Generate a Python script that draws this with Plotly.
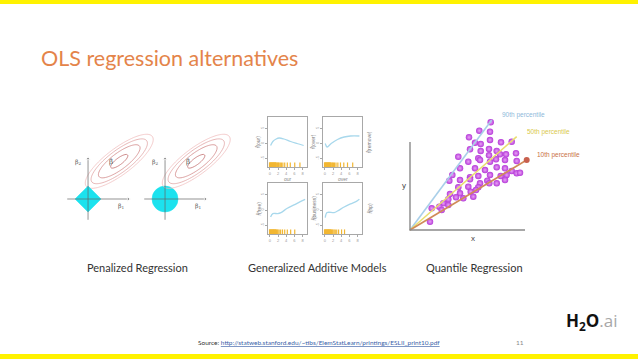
import numpy as np
import plotly.graph_objects as go

W, H = 638, 359

# ---------------- data ----------------
TITLE = "OLS regression alternatives"
CAPTIONS = ["Penalized Regression", "Generalized Additive Models", "Quantile Regression"]
SOURCE_URL = "http://statweb.stanford.edu/~tibs/ElemStatLearn/printings/ESLII_print10.pdf"
PAGE_NUMBER = "11"

# Penalized regression (beta space)
BETA_HAT = [2.4, 2.9]
RSS_SEMI_AXES = [3.3, 1.05]
RSS_ANGLE_DEG = 37
RSS_LEVEL_START, RSS_LEVEL_END, RSS_LEVEL_STEP = 0.06, 0.93, 0.29
LASSO_B1 = [1, 0, -1, 0, 1]
LASSO_B2 = [0, 1, 0, -1, 0]
RIDGE_RADIUS = 1.0
BETA_AXIS_MIN, BETA_AXIS_MAX = -1.6, 3.1

# Generalized additive models (spam data panels)
GAM_NAMES = ["our", "over", "free", "business"]
GAM_X = {
    "our":      [0.07, 0.13, 0.22, 0.30, 0.43, 0.61, 0.78, 0.96],
    "over":     [0.06, 0.11, 0.22, 0.39, 0.57, 0.74, 0.98],
    "free":     [0.07, 0.13, 0.26, 0.35, 0.52, 0.70, 0.87, 1.00],
    "business": [0.06, 0.11, 0.30, 0.39, 0.57, 0.74, 0.91, 0.98],
}
GAM_Y = {
    "our":      [0.43, 0.51, 0.56, 0.58, 0.56, 0.51, 0.47, 0.43],
    "over":     [0.47, 0.40, 0.47, 0.55, 0.60, 0.62, 0.62],
    "free":     [0.335, 0.40, 0.40, 0.42, 0.505, 0.57, 0.635, 0.68],
    "business": [0.32, 0.42, 0.42, 0.45, 0.53, 0.59, 0.645, 0.68],
}
GAM_RUG = {
    "our":      [0.04, 0.05, 0.06, 0.07, 0.08, 0.09, 0.10, 0.11, 0.12, 0.13, 0.14, 0.15, 0.16, 0.17, 0.18, 0.19,
                 0.20, 0.21, 0.22, 0.24, 0.26, 0.28, 0.30, 0.33, 0.36, 0.40, 0.45, 0.52, 0.60, 0.72, 0.86],
    "over":     [0.04, 0.05, 0.06, 0.07, 0.08, 0.09, 0.10, 0.11, 0.12, 0.13, 0.14, 0.15, 0.16, 0.17, 0.18, 0.19,
                 0.20, 0.22, 0.24, 0.26, 0.28, 0.31, 0.35, 0.40, 0.47, 0.56, 0.66, 0.80],
    "free":     [0.04, 0.05, 0.06, 0.07, 0.08, 0.09, 0.10, 0.11, 0.12, 0.13, 0.14, 0.15, 0.16, 0.17, 0.18, 0.19,
                 0.20, 0.21, 0.23, 0.25, 0.27, 0.30, 0.34, 0.39, 0.45, 0.52, 0.61, 0.72],
    "business": [0.04, 0.05, 0.06, 0.07, 0.08, 0.09, 0.10, 0.11, 0.12, 0.13, 0.14, 0.15, 0.16, 0.17, 0.18, 0.19,
                 0.20, 0.21, 0.23, 0.25, 0.27, 0.30, 0.33, 0.37, 0.42, 0.50, 0.58],
}
GAM_XTICKS = [0.05, 0.27, 0.49, 0.71, 0.93]
GAM_XTICKTEXT = ["0", "2", "4", "6", "8"]
GAM_YTICKS = [0.17, 0.47, 0.77]
GAM_YTICKTEXT = ["-5", "0", "5"]
GAM_RIGHT_LABELS = ["remove", "hp"]

# Quantile regression
Q_X = [69.3, 80, 59, 65, 70.7, 80, 91, 60, 70.7, 79, 86.7, 48.3, 68.3, 79, 90, 96, 106,
       58.3, 70, 80, 86, 95, 106.7, 50, 65, 75, 86.7, 95, 101.7, 106.7, 110, 42.3, 60, 68.3,
       80, 90.7, 96.7, 39.3, 50, 60, 70, 77.3, 86.7, 95, 48.3, 58.3, 68.3, 79.3, 40, 50,
       60.7, 66, 38.3, 46, 53.3, 63.3, 33.3, 38.3, 29.3, 21.7, 31.7, 20, 101.7, 80.7]
Q_Y = [99.3, 98.3, 92.7, 87.3, 86, 90, 87.7, 80.7, 79, 81, 79, 73.3, 71.7, 74.7, 75.7, 75.7, 76.7,
       68.3, 70, 68.3, 70.7, 70, 69, 61.7, 61.7, 60, 62.7, 61.7, 59, 56.7, 57.3, 55, 52.7, 54,
       55, 54, 55, 49.3, 50, 50.7, 46.7, 49.3, 46.7, 50, 42.7, 43.3, 42.7, 46.7, 36, 36.7,
       38.3, 40, 30.7, 32.7, 31.7, 33.3, 26.7, 25, 23.3, 21.7, 20, 8.3, 88.3, 107.7]
Q_LINE_LABELS = ["90th percentile", "50th percentile", "10th percentile"]
Q_LINE_END_X = [81.7, 106.7, 116.7]
Q_LINE_END_Y = [110, 93.3, 70]
Q_AXIS_Y_TOP = 88
Q_AXIS_X_END = 115

# ---------------- styling ----------------
YELLOW = "#FFF200"
ORANGE_TITLE = "#E4844A"
CYAN = "#1CE2EE"
Q_LINE_COLORS = ["#A9CFE9", "#E9DE6E", "#D08A58"]
Q_LABEL_COLORS = ["#8DB9DA", "#D9C94A", "#C8703F"]
RUG_COLOR = "#F2B733"
FONT = "Lato"


def dx(p0, p1):
    return [p0 / W, p1 / W]


def dy(p0, p1):
    return [1 - p1 / H, 1 - p0 / H]


def px(x):
    return x / W


def py(y):
    return 1 - y / H


fig = go.Figure()
annotations = []

# ---------- panel 1: lasso / ridge ----------
g1 = np.linspace(-2.3, 6.1, 120)
B1, B2 = np.meshgrid(g1, g1)
th = np.deg2rad(RSS_ANGLE_DEG)
U = (B1 - BETA_HAT[0]) * np.cos(th) + (B2 - BETA_HAT[1]) * np.sin(th)
V = -(B1 - BETA_HAT[0]) * np.sin(th) + (B2 - BETA_HAT[1]) * np.cos(th)
RSS = (U / RSS_SEMI_AXES[0]) ** 2 + (V / RSS_SEMI_AXES[1]) ** 2

fig.add_trace(go.Scatter(x=LASSO_B1, y=LASSO_B2, fill="toself", fillcolor=CYAN,
                         line=dict(color=CYAN, width=0.5), mode="lines",
                         xaxis="x", yaxis="y", showlegend=False, hoverinfo="skip"))

for xa, ya in [("x", "y"), ("x2", "y2")]:
    fig.add_trace(go.Contour(x=g1, y=g1, z=RSS, xaxis=xa, yaxis=ya,
                             contours=dict(coloring="lines", start=RSS_LEVEL_START,
                                           end=RSS_LEVEL_END, size=RSS_LEVEL_STEP),
                             colorscale=[[0, "#C06A6A"], [1, "#F0BCBC"]],
                             zmin=RSS_LEVEL_START, zmax=RSS_LEVEL_END,
                             line=dict(width=0.8, smoothing=1.3), showscale=False,
                             hoverinfo="skip"))
    # beta axes with arrow heads
    fig.add_trace(go.Scatter(x=[BETA_AXIS_MIN, BETA_AXIS_MAX], y=[0, 0], mode="lines+markers",
                             line=dict(color="#666", width=0.7),
                             marker=dict(symbol=["line-ns", "triangle-right"], size=[0, 4], color="#666"),
                             xaxis=xa, yaxis=ya, showlegend=False, hoverinfo="skip"))
    fig.add_trace(go.Scatter(x=[0, 0], y=[BETA_AXIS_MIN, BETA_AXIS_MAX], mode="lines+markers",
                             line=dict(color="#666", width=0.7),
                             marker=dict(symbol=["line-ew", "triangle-up"], size=[0, 4], color="#666"),
                             xaxis=xa, yaxis=ya, showlegend=False, hoverinfo="skip"))
    annotations.append(dict(x=2.5, y=-0.5, xref=xa, yref=ya, text="β<sub>1</sub>",
                            showarrow=False, font=dict(size=6, color="#555", family="DejaVu Serif")))
    annotations.append(dict(x=-0.75, y=2.85, xref=xa, yref=ya, text="β<sub>2</sub>",
                            showarrow=False, font=dict(size=6, color="#555", family="DejaVu Serif")))
    annotations.append(dict(x=1.8, y=2.85, xref=xa, yref=ya, text="β̂",
                            showarrow=False, font=dict(size=7, color="#555", family="DejaVu Serif")))

fig.add_shape(type="circle", xref="x2", yref="y2",
              x0=-RIDGE_RADIUS, x1=RIDGE_RADIUS, y0=-RIDGE_RADIUS, y1=RIDGE_RADIUS,
              fillcolor=CYAN, line=dict(color=CYAN, width=0.5), layer="below")

# ---------- panel 2: GAM ----------
gam_axes = [("x3", "y3"), ("x4", "y4"), ("x5", "y5"), ("x6", "y6")]
for name, (xa, ya) in zip(GAM_NAMES, gam_axes):
    fig.add_trace(go.Scatter(x=GAM_RUG[name], y=[0.035] * len(GAM_RUG[name]), mode="markers",
                             marker=dict(symbol="line-ns-open", size=4, color=RUG_COLOR,
                                         line=dict(color=RUG_COLOR, width=1.2)),
                             xaxis=xa, yaxis=ya, showlegend=False, hoverinfo="skip"))
    fig.add_trace(go.Scatter(x=GAM_X[name], y=GAM_Y[name], mode="lines",
                             line=dict(color="#A8D8EC", width=1.3, shape="spline"),
                             xaxis=xa, yaxis=ya, showlegend=False, hoverinfo="skip"))

# ---------- panel 3: quantile regression ----------
fig.add_trace(go.Scatter(x=Q_X, y=Q_Y, mode="markers",
                         marker=dict(size=6.5, color="#B53BD8",
                                     gradient=dict(type="radial", color="#E9A0F6"),
                                     line=dict(width=0)),
                         xaxis="x7", yaxis="y7", showlegend=False, hoverinfo="skip"))
for lab, ex, ey, lc, tc in zip(Q_LINE_LABELS, Q_LINE_END_X, Q_LINE_END_Y, Q_LINE_COLORS, Q_LABEL_COLORS):
    fig.add_trace(go.Scatter(x=[0, ex], y=[0, ey], mode="lines",
                             line=dict(color=lc, width=1.6),
                             xaxis="x7", yaxis="y7", showlegend=False, hoverinfo="skip"))
    annotations.append(dict(x=ex + 8, y=ey + 5, xref="x7", yref="y7", text=lab,
                            xanchor="left", yanchor="middle", showarrow=False,
                            font=dict(size=6.5, color=tc, family="Liberation Sans")))
fig.add_trace(go.Scatter(x=[Q_LINE_END_X[2]], y=[Q_LINE_END_Y[2]], mode="markers",
                         marker=dict(size=6, color="#C8604E"),
                         xaxis="x7", yaxis="y7", showlegend=False, hoverinfo="skip"))
fig.add_trace(go.Scatter(x=[0, 0, Q_AXIS_X_END], y=[Q_AXIS_Y_TOP, 0, 0], mode="lines",
                         line=dict(color="#8A8A8A", width=1.4),
                         xaxis="x7", yaxis="y7", showlegend=False, hoverinfo="skip"))
annotations.append(dict(x=-6, y=45, xref="x7", yref="y7", text="y", showarrow=False,
                        font=dict(size=8, color="#444", family="Liberation Sans")))
annotations.append(dict(x=63, y=-8, xref="x7", yref="y7", text="x", showarrow=False,
                        font=dict(size=8, color="#444", family="Liberation Sans")))

# ---------- layout axes ----------
hidden = dict(visible=False, fixedrange=True)
layout_axes = dict(
    xaxis=dict(domain=dx(58, 168), range=[-2.31, 6.15], anchor="y", **hidden),
    yaxis=dict(domain=dy(118, 228), range=[-2.23, 6.23], anchor="x", **hidden),
    xaxis2=dict(domain=dx(135, 245), range=[-2.31, 6.15], anchor="y2", **hidden),
    yaxis2=dict(domain=dy(118, 228), range=[-2.23, 6.23], anchor="x2", **hidden),
    xaxis7=dict(domain=dx(395, 600), range=[-15, 190], anchor="y7", **hidden),
    yaxis7=dict(domain=dy(95, 245), range=[-15, 135], anchor="x7", **hidden),
)
gam_boxes = [(268, 307, 117, 167), (323, 362, 117, 167), (268, 307, 183, 234), (323, 362, 183, 234)]
for i, (box, name) in enumerate(zip(gam_boxes, GAM_NAMES)):
    n = i + 3
    common = dict(showline=True, mirror=True, linecolor="#A8A8A8", linewidth=0.7,
                  ticks="outside", ticklen=2, tickwidth=0.6, tickcolor="#A8A8A8",
                  tickfont=dict(size=4, color="#999", family="Liberation Sans"),
                  showgrid=False, zeroline=False, fixedrange=True)
    layout_axes[f"xaxis{n}"] = dict(domain=dx(box[0], box[1]), range=[0, 1.05], anchor=f"y{n}",
                                    tickvals=GAM_XTICKS, ticktext=GAM_XTICKTEXT, **common)
    layout_axes[f"yaxis{n}"] = dict(domain=dy(box[2], box[3]), range=[0, 1], anchor=f"x{n}",
                                    tickvals=GAM_YTICKS, ticktext=GAM_YTICKTEXT, tickangle=-90, **common)
    annotations.append(dict(x=px(box[0] - 10), y=py((box[2] + box[3]) / 2), xref="paper", yref="paper",
                            text=f"<i>f̂</i>({name})", textangle=-90, showarrow=False,
                            font=dict(size=5, color="#777", family="Liberation Sans")))
    if i < 2:
        annotations.append(dict(x=px((box[0] + box[1]) / 2), y=py(box[3] + 12), xref="paper", yref="paper",
                                text=name, showarrow=False,
                                font=dict(size=5, color="#888", family="Liberation Sans")))
for lab, box in zip(GAM_RIGHT_LABELS, [gam_boxes[1], gam_boxes[3]]):
    annotations.append(dict(x=px(box[1] + 7), y=py((box[2] + box[3]) / 2), xref="paper", yref="paper",
                            text=f"<i>f̂</i>({lab})", textangle=-90, showarrow=False,
                            font=dict(size=5, color="#777", family="Liberation Sans")))

# ---------- slide texts ----------
annotations.append(dict(x=px(39), y=py(58), xref="paper", yref="paper", text=TITLE,
                        xanchor="left", yanchor="middle", showarrow=False,
                        font=dict(size=21.5, color=ORANGE_TITLE, family=FONT)))
for cap, cx in zip(CAPTIONS, [137, 317.5, 474.5]):
    annotations.append(dict(x=px(cx), y=py(267), xref="paper", yref="paper", text=cap,
                            xanchor="center", yanchor="middle", showarrow=False,
                            font=dict(size=11, color="#333", family=FONT)))
annotations.append(dict(x=px(196), y=py(342), xref="paper", yref="paper",
                        text=f"Source: <span style='color:#3A5FA8'><u>{SOURCE_URL}</u></span>",
                        xanchor="left", yanchor="middle", showarrow=False,
                        font=dict(size=6.5, color="#333", family=FONT)))
annotations.append(dict(x=px(520), y=py(342), xref="paper", yref="paper", text=PAGE_NUMBER,
                        xanchor="center", yanchor="middle", showarrow=False,
                        font=dict(size=6.5, color="#888", family=FONT)))
annotations.append(dict(x=px(564), y=py(321), xref="paper", yref="paper",
                        text="<b>H<sub>2</sub>O</b><span style='color:#A8A8A8'>.ai</span>",
                        xanchor="left", yanchor="middle", showarrow=False,
                        font=dict(size=17, color="#111", family="Open Sans")))

fig.add_shape(type="rect", xref="paper", yref="paper", x0=0, x1=1, y0=py(4), y1=1,
              fillcolor=YELLOW, line=dict(width=0), layer="below")
fig.add_shape(type="rect", xref="paper", yref="paper", x0=0, x1=1, y0=0, y1=py(354),
              fillcolor=YELLOW, line=dict(width=0), layer="below")

fig.update_layout(width=W, height=H, margin=dict(l=0, r=0, t=0, b=0),
                  paper_bgcolor="white", plot_bgcolor="rgba(0,0,0,0)",
                  showlegend=False, annotations=annotations, **layout_axes)

fig.write_html("out.html", config=dict(displayModeBar=False),
               post_script="document.body.style.margin='0px';")
